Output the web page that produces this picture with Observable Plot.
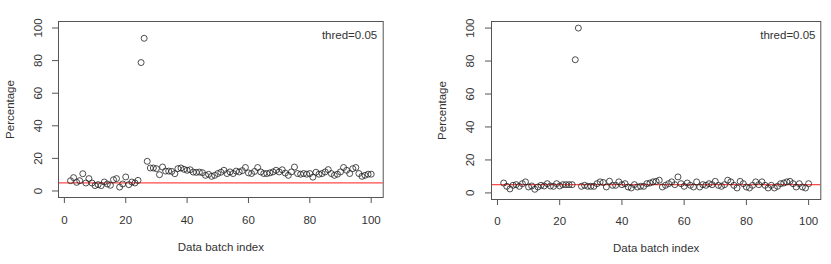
<!DOCTYPE html>
<html>
<head>
<meta charset="utf-8">
<script src="https://cdn.jsdelivr.net/npm/d3@7"></script>
<script src="https://cdn.jsdelivr.net/npm/@observablehq/plot@0.6"></script>
<style>
  html, body { margin: 0; padding: 0; background: #fff; }
  #wrap { position: relative; width: 831px; height: 264px; overflow: hidden; }
  #wrap > div, #wrap > svg { position: absolute; top: 0; }
</style>
</head>
<body>
<div id="wrap"></div>
<script>
// Data batch indices start at 2
const startIndex = 2;
const leftValues = [
  6.3, 8.2, 5.3, 6.3, 10.6, 4.9, 7.6, 4.9, 3.3, 3.9,
  3.3, 5.5, 4.3, 3.5, 6.9, 7.6, 2.4, 4.3, 8.6, 3.9,
  5.5, 4.9, 6.5, 78.8, 93.7, 18.2, 14.1, 14.1, 13.7, 10.0,
  14.7, 12.2, 12.2, 12.0, 10.6, 13.7, 14.1, 13.3, 12.7, 13.0,
  11.6, 11.4, 11.6, 11.2, 9.6, 10.2, 9.0, 9.6, 10.7, 11.5,
  12.7, 10.7, 11.7, 10.7, 12.2, 11.7, 12.5, 14.4, 11.1, 10.7,
  12.0, 14.4, 11.7, 10.7, 10.7, 11.1, 11.7, 12.7, 11.7, 13.0,
  11.0, 9.6, 11.7, 14.7, 10.7, 10.3, 10.7, 10.3, 10.7, 8.5,
  11.5, 10.3, 10.7, 11.7, 13.1, 10.7, 9.6, 10.3, 11.7, 14.4,
  12.7, 10.7, 13.7, 14.4, 10.7, 9.0, 9.6, 10.3, 10.3
];
const rightValues = [
  6.0, 4.0, 2.4, 4.6, 5.0, 4.0, 5.6, 6.7, 3.6, 4.2,
  2.2, 3.6, 4.6, 4.2, 5.6, 4.2, 4.0, 5.6, 4.2, 5.0,
  5.0, 5.0, 5.0, 80.8, 100.0, 4.0, 4.6, 4.0, 4.0, 4.0,
  5.6, 6.7, 6.3, 3.6, 7.1, 4.6, 4.6, 6.7, 5.0, 5.6,
  3.6, 3.0, 5.0, 3.6, 4.0, 4.0, 5.6, 6.0, 6.7, 7.0,
  7.7, 3.6, 4.6, 5.6, 6.7, 5.0, 9.7, 5.6, 4.0, 6.0,
  4.6, 3.6, 6.7, 3.6, 5.0, 4.6, 5.6, 5.0, 7.0, 4.6,
  4.0, 5.0, 7.7, 6.7, 4.6, 3.0, 7.0, 5.6, 3.6, 3.0,
  4.6, 6.7, 5.0, 6.7, 4.6, 3.0, 4.6, 3.0, 4.0, 5.6,
  6.0, 6.7, 7.0, 5.6, 3.6, 5.6, 3.6, 3.0, 5.6
];
const xTicks = [0, 20, 40, 60, 80, 100];
const yTicks = [0, 20, 40, 60, 80, 100];
const threshold = 5;
const annotation = "thred=0.05";
const xLabel = "Data batch index";
const yLabel = "Percentage";

function panel(values, o) {
  const data = values.map((v, k) => ({i: k + startIndex, v}));
  const chart = Plot.plot({
    width: o.width,
    height: 264,
    marginLeft: o.ml,
    marginRight: o.mr,
    marginTop: o.mt,
    marginBottom: o.mb,
    style: {fontFamily: "'Liberation Sans', Arial, sans-serif", fontSize: "11.5px", color: "#333", background: "transparent"},
    x: {domain: [-1.92, 103.92]},
    y: {domain: [-4, 104]},
    marks: [
      Plot.ruleY([threshold], {stroke: "#ff4a4a", strokeWidth: 1.1}),
      Plot.dot(data, {x: "i", y: "v", r: 3, stroke: "#222", strokeWidth: 0.8, fill: "none"}),
      Plot.frame({stroke: "#555", strokeWidth: 1}),
      Plot.axisX({ticks: xTicks, tickSize: 6, tickPadding: o.xpad, stroke: "#555", label: null}),
      Plot.axisY({ticks: yTicks, tickSize: 6, tickFormat: () => "", stroke: "#555", label: null}),
      Plot.text(yTicks, {y: d => d, text: d => String(d), frameAnchor: "left", dx: o.ytx, rotate: -90, textAnchor: "middle", lineAnchor: "middle", fill: "#333"}),
      Plot.text([yLabel], {text: d => d, frameAnchor: "left", dx: o.ylx, rotate: -90, textAnchor: "middle", lineAnchor: "middle", fill: "#333"}),
      Plot.text([xLabel], {text: d => d, frameAnchor: "bottom", dy: o.xly, textAnchor: "middle", lineAnchor: "middle", fill: "#333"}),
      Plot.text([annotation], {text: d => d, frameAnchor: "top-right", dx: o.adx, dy: 14, textAnchor: "end", lineAnchor: "middle", fill: "#333"})
    ]
  });
  chart.style.left = o.left + "px";
  document.getElementById("wrap").appendChild(chart);
}

panel(leftValues, {left: 0, width: 400, ml: 58, mr: 17.3, mt: 21, mb: 67, xpad: 12, ytx: -20.3, ylx: -48, xly: 50, adx: -6});
panel(rightValues, {left: 420, width: 411, ml: 71, mr: 10.7, mt: 21, mb: 65, xpad: 11, ytx: -21, ylx: -49, xly: 49, adx: -5.3});
</script>
</body>
</html>
